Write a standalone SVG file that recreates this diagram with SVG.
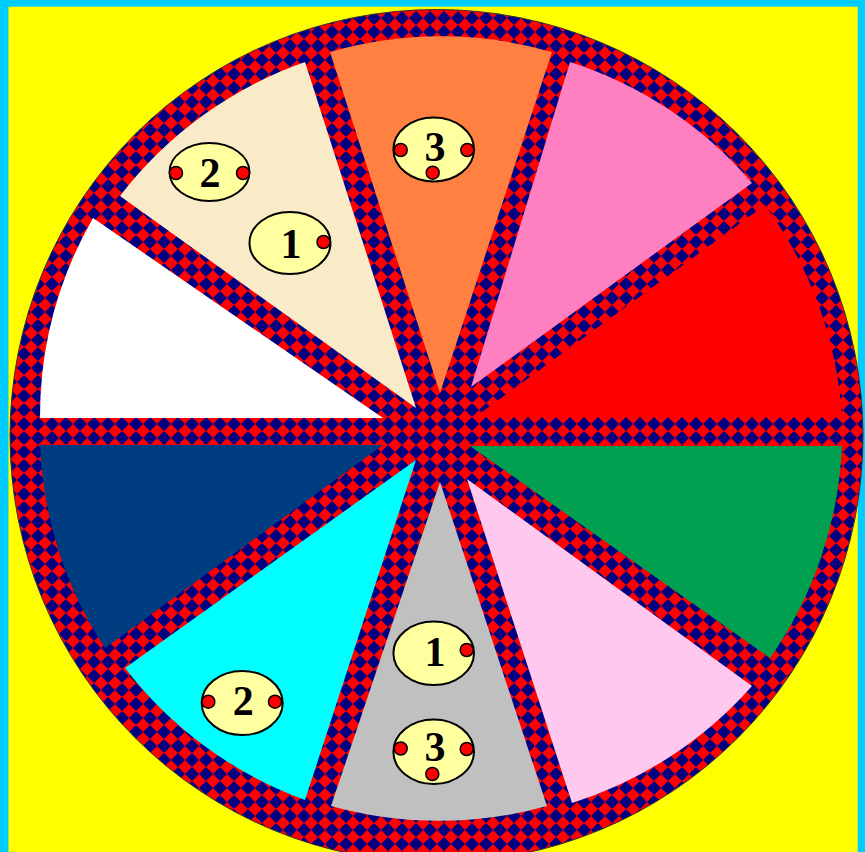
<svg xmlns="http://www.w3.org/2000/svg" width="865" height="852" viewBox="0 0 865 852">
<defs>
<pattern id="chk" patternUnits="userSpaceOnUse" x="430" y="424" width="14" height="14">
<rect width="14" height="14" fill="#000080"/>
<polygon points="7,0 14,7 7,14 0,7" fill="#FF0000"/>
</pattern>
<style>
.oval{fill:#FFFFA0;stroke:#000;stroke-width:2}
.dot{fill:#FF0000;stroke:#000;stroke-width:1.5}
.num{font-family:"Liberation Serif","Times New Roman",serif;font-weight:bold;font-size:42px;fill:#000;text-anchor:middle;dominant-baseline:central}
</style>
</defs>
<rect x="0" y="0" width="865" height="852" fill="#00CCFF"/>
<rect x="8.5" y="6.7" width="849.2" height="860" fill="#FFFF00"/>
<circle id="wheel" cx="436.5" cy="436" r="426.5" fill="url(#chk)" stroke="#333" stroke-width="1"/>
<g id="wedge-orange"><path d="M440,393 L330,52 A400,400 0 0 1 552,52 Z" fill="#FF8040"/></g>
<g id="wedge-pink"><path d="M471,387 L570,62 A400,400 0 0 1 752,183 Z" fill="#FF80C0"/></g>
<g id="wedge-red"><path d="M475,417 L765,205 A400,400 0 0 1 842,417 Z" fill="#FF0000"/></g>
<g id="wedge-green"><path d="M470,446 L842,446 A400,400 0 0 1 770,658 Z" fill="#00A050"/></g>
<g id="wedge-lightpink"><path d="M467,479 L752,686 A400,400 0 0 1 572,803 Z" fill="#FFC8EE"/></g>
<g id="wedge-gray"><path d="M440,482 L547,806 A400,400 0 0 1 331,806 Z" fill="#C0C0C0"/></g>
<g id="wedge-cyan"><path d="M416,460 L305,800 A400,400 0 0 1 125,668 Z" fill="#00FFFF"/></g>
<g id="wedge-darkblue"><path d="M383,445 L105,648 A400,400 0 0 1 40,445 Z" fill="#003C80"/></g>
<g id="wedge-white"><path d="M383,418 L40,418 A400,400 0 0 1 93,218 Z" fill="#FFFFFF"/></g>
<g id="wedge-beige"><path d="M416,408 L120,196 A400,400 0 0 1 305,62 Z" fill="#FAEBC8"/></g>

<g id="token-beige-2">
<ellipse class="oval" cx="209.5" cy="172" rx="40" ry="29"/>
<circle class="dot" cx="176" cy="173" r="6.5"/>
<circle class="dot" cx="243" cy="173" r="6.5"/>
<text class="num" x="210" y="173">2</text>
</g>
<g id="token-beige-1">
<ellipse class="oval" cx="290" cy="243" rx="40.5" ry="31"/>
<circle class="dot" cx="323.5" cy="242" r="6.5"/>
<text class="num" x="291" y="244">1</text>
</g>
<g id="token-orange-3">
<ellipse class="oval" cx="433.7" cy="149.5" rx="40.3" ry="32"/>
<circle class="dot" cx="400.7" cy="150" r="6.5"/>
<circle class="dot" cx="467.3" cy="150" r="6.5"/>
<circle class="dot" cx="432.7" cy="172.7" r="6.5"/>
<text class="num" x="435" y="147">3</text>
</g>
<g id="token-gray-1">
<ellipse class="oval" cx="433.7" cy="653.3" rx="40.3" ry="31.7"/>
<circle class="dot" cx="466.7" cy="650" r="6.5"/>
<text class="num" x="435" y="652">1</text>
</g>
<g id="token-gray-3">
<ellipse class="oval" cx="433.7" cy="751.7" rx="40.3" ry="32.3"/>
<circle class="dot" cx="400.7" cy="748.5" r="6.5"/>
<circle class="dot" cx="466.7" cy="749" r="6.5"/>
<circle class="dot" cx="432.3" cy="774" r="6.5"/>
<text class="num" x="435" y="747">3</text>
</g>
<g id="token-cyan-2">
<ellipse class="oval" cx="242.2" cy="703" rx="40.5" ry="32"/>
<circle class="dot" cx="208.3" cy="701.7" r="6.5"/>
<circle class="dot" cx="275" cy="701.7" r="6.5"/>
<text class="num" x="243.3" y="701">2</text>
</g>
</svg>
